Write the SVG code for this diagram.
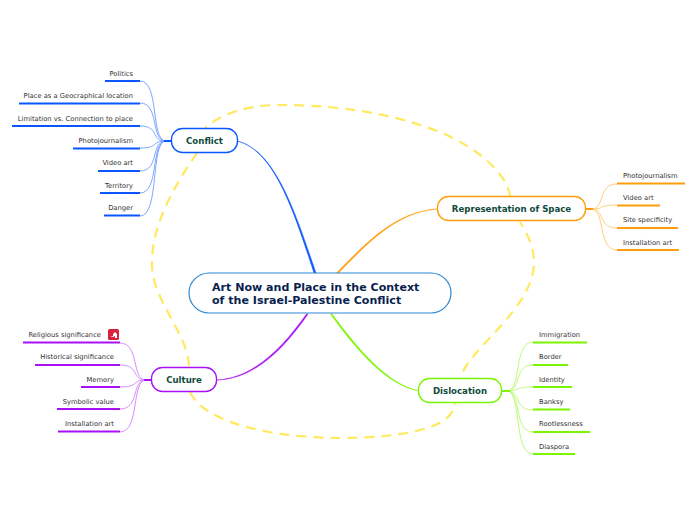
<svg xmlns="http://www.w3.org/2000/svg" width="696" height="520" viewBox="0 0 696 520">
<style>
text{font-family:"DejaVu Sans",Verdana,sans-serif}
.t{font-size:6.75px;fill:#333}
.e{text-anchor:end}
.n{font-size:8.6px;font-weight:bold;fill:#0f4a3c;text-anchor:middle}
.r{font-size:11.07px;font-weight:bold;fill:#0a1f4f}
.box{fill:#fff;stroke-width:1.3}
.thin{fill:none;stroke-width:.9}
.u{fill:none;stroke-width:2}
.m{fill:none;stroke-width:2}
.b{stroke:#0b57ff}.p{stroke:#a811f5}.o{stroke:#ff9d0a}.g{stroke:#7bf500}
.fb{fill:#0b57ff;stroke:#0b57ff}.fp{fill:#a811f5;stroke:#a811f5}.fo{fill:#ff9d0a;stroke:#ff9d0a}.fg{fill:#7bf500;stroke:#7bf500}
.w{stroke-width:.5}
.lb{stroke:#6f9bff}.lp{stroke:#cf7ffb}.lo{stroke:#ffc670}.lg{stroke:#b6f96a}
</style>
<rect width="696" height="520" fill="#fff"/>
<g id="connectors">
<path d="M510 197C508 172 470 140 420 125C375 110 325 105 280 105C245 105 220 115 205 128M197 153C175 185 151 225 152 265C152 300 189 335 189 367M190 392C205 425 280 438 340 438C395 438 445 430 453 410C458 397 459 385 461 378C466 350 534 310 534 262C534 245 525 230 520 222" fill="none" stroke="#ffe95e" stroke-width="2.2" stroke-dasharray="10 7"/>
<path class="fb w" d="M237 141C275 150 295 215 314 273L316 273C296 215 276 150 237 141Z"/>
<path class="fo w" d="M437 209C395 211.500 365 244 336.500 273L338.500 273C366 245 396 212 437 209Z"/>
<path class="fp w" d="M217 380C255 378 284.500 345 306.500 314L308 314C286 346 256 379 217 380Z"/>
<path class="fg w" d="M419 391C386 385 356.500 350 330.500 314L332 314C358 349 387 384 419 391Z"/>
<g class="thin lb">
<path d="M140 81C160 81 150 141 166 141"/>
<path d="M140 103C160 103 150 141 166 141"/>
<path d="M140 126C160 126 150 141 166 141"/>
<path d="M140 148C160 148 150 141 166 141"/>
<path d="M140 171C160 171 150 141 166 141"/>
<path d="M140 193C160 193 150 141 166 141"/>
<path d="M140 216C160 216 150 141 166 141"/>
</g>
<path class="m b" d="M164 141H171"/>
<g class="u b">
<path d="M105 81H140"/><path d="M19 103.500H140"/><path d="M12 126H140"/><path d="M73 148.500H140"/><path d="M98 171H140"/><path d="M100 193H140"/><path d="M104 215.500H140"/>
</g>
<g class="thin lp">
<path d="M120 343C140 343 131 380 146 380"/>
<path d="M120 365C140 365 131 380 146 380"/>
<path d="M120 387C140 387 131 380 146 380"/>
<path d="M120 409C140 409 131 380 146 380"/>
<path d="M120 432C140 432 131 380 146 380"/>
</g>
<path class="m p" d="M144 380H151"/>
<g class="u p">
<path d="M23 342.500H120"/><path d="M35 365H120"/><path d="M81 387H120"/><path d="M57 409H120"/><path d="M58 431.500H120"/>
</g>
<g class="thin lo">
<path d="M617 184C597 184 606 209 591 209"/>
<path d="M617 205C597 205 606 209 591 209"/>
<path d="M617 228C597 228 606 209 591 209"/>
<path d="M617 250C597 250 606 209 591 209"/>
</g>
<path class="m o" d="M586 209H593"/>
<g class="u o">
<path d="M617 183.500H685"/><path d="M617 205.500H660"/><path d="M617 228H678"/><path d="M617 250H679"/>
</g>
<g class="thin lg">
<path d="M533 342C513 342 522 391 507 391"/>
<path d="M533 365C513 365 522 391 507 391"/>
<path d="M533 387C513 387 522 391 507 391"/>
<path d="M533 410C513 410 522 391 507 391"/>
<path d="M533 432C513 432 522 391 507 391"/>
<path d="M533 454C513 454 522 391 507 391"/>
</g>
<path class="m g" d="M502 391H510"/>
<g class="u g">
<path d="M533 342.500H587"/><path d="M533 365H568"/><path d="M533 387H572"/><path d="M533 409.500H570"/><path d="M533 432H590"/><path d="M533 454H575"/>
</g>
</g>
<g id="root"><rect x="189" y="273" width="262" height="40" rx="20" fill="#fff" stroke="#2a86d1" stroke-width="1.2"/>
<text class="r" x="212" y="291">Art Now and Place in the Context</text><text class="r" x="212" y="304">of the Israel-Palestine Conflict</text></g>
<g id="conflict"><rect class="box b" x="171.500" y="128.500" width="66" height="24" rx="11"/><text class="n" x="204.500" y="144">Conflict</text></g>
<g id="representation"><rect class="box o" x="437.500" y="196.500" width="148" height="24" rx="11"/><text class="n" x="511.500" y="212">Representation of Space</text></g>
<g id="culture"><rect class="box p" x="151.500" y="367.500" width="65" height="24" rx="11"/><text class="n" x="184" y="383">Culture</text></g>
<g id="dislocation"><rect class="box g" x="418.500" y="378.500" width="83" height="24" rx="11"/><text class="n" x="460" y="394">Dislocation</text></g>
<g id="c1"><text class="t e" x="133" y="76">Politics</text></g>
<g id="c2"><text class="t e" x="133" y="98">Place as a Geocraphical location</text></g>
<g id="c3"><text class="t e" x="133" y="121">Limitation vs. Connection to place</text></g>
<g id="c4"><text class="t e" x="133" y="143">Photojournalism</text></g>
<g id="c5"><text class="t e" x="133" y="165">Video art</text></g>
<g id="c6"><text class="t e" x="133" y="188">Territory</text></g>
<g id="c7"><text class="t e" x="133" y="210">Danger</text></g>
<g id="k1"><text class="t e" x="101" y="337">Religious significance</text><rect x="108" y="329" width="11" height="11" rx="1.500" fill="#d9213f"/><path d="M110 337l3-1v-2l2-2 2 2v4h-2v-2l-2 1z" fill="#fff"/></g>
<g id="k2"><text class="t e" x="114" y="359">Historical significance</text></g>
<g id="k3"><text class="t e" x="114" y="382">Memory</text></g>
<g id="k4"><text class="t e" x="114" y="404">Symbolic value</text></g>
<g id="k5"><text class="t e" x="114" y="426">Installation art</text></g>
<g id="r1"><text class="t" x="623" y="178">Photojournalism</text></g>
<g id="r2"><text class="t" x="623" y="200">Video art</text></g>
<g id="r3"><text class="t" x="623" y="222">Site specificity</text></g>
<g id="r4"><text class="t" x="623" y="245">Installation art</text></g>
<g id="d1"><text class="t" x="539" y="337">Immigration</text></g>
<g id="d2"><text class="t" x="539" y="359">Border</text></g>
<g id="d3"><text class="t" x="539" y="382">Identity</text></g>
<g id="d4"><text class="t" x="539" y="404">Banksy</text></g>
<g id="d5"><text class="t" x="539" y="426">Rootlessness</text></g>
<g id="d6"><text class="t" x="539" y="449">Diaspora</text></g>
</svg>
